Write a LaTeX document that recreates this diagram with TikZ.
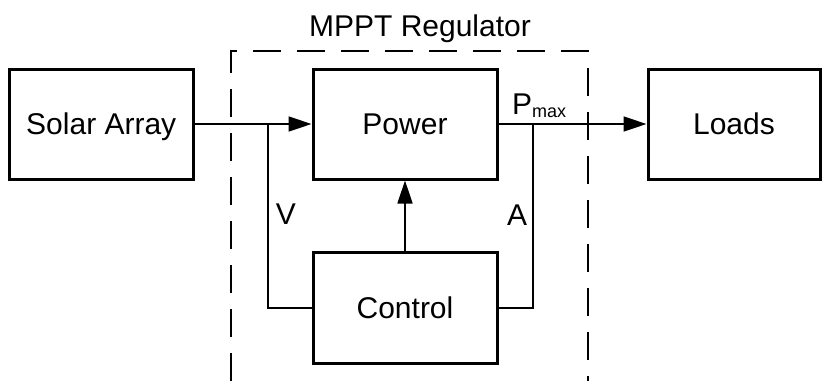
\documentclass[tikz,border=0pt]{standalone}
\usepackage{fontspec}
\setmainfont{Liberation Sans}
\usetikzlibrary{arrows.meta}
\begin{document}
\begin{tikzpicture}[x=1pt,y=-1pt,
  blockbox/.style={draw=black, line width=3pt, rectangle, inner sep=0pt,
    minimum height=110pt, text height=21.5pt, text depth=0pt,
    font=\fontsize{30}{36}\selectfont},
  conn/.style={draw=black, line width=1.5pt},
  arr/.style={conn, -{Triangle[length=23pt,width=15pt]}},
  lbl/.style={inner sep=0pt, text height=21.5pt, text depth=0pt, font=\fontsize{30}{36}\selectfont},
  regbox/.style={draw=black, line width=2pt, dash pattern=on 28pt off 16pt}
]
\useasboundingbox (0,0) rectangle (822,381);
\fill[white] (0,0) rectangle (822,381);

% dashed regulator boundary
\coordinate (rbl) at (231,381);
\coordinate (rtl) at (231,51);
\coordinate (rtr) at (588,51);
\coordinate (rbr) at (588,381);
\draw[regbox] (rbl) -- (rtl) -- (rtr) -- (rbr);
\node[lbl, anchor=base] (title) at (420,36) {MPPT Regulator};

% blocks
\node[blockbox, minimum width=183.5pt] (solar) at (101.25,124) {Solar Array};
\node[blockbox, minimum width=184pt] (power) at (405,124) {Power};
\node[blockbox, minimum width=172pt] (loads) at (734,124) {Loads};
\node[blockbox, minimum width=184pt, minimum height=111pt] (control) at (405,307.5) {Control};

% junctions
\coordinate (jv) at (268,124);
\coordinate (jvb) at (268,308);
\coordinate (ja) at (533,124);
\coordinate (jab) at (533,308);

% connectors
\draw[arr] (solar.east) -- (power.west);
\draw[arr] (power.east) -- (loads.west);
\draw[arr] (control.north) -- (power.south);
\draw[conn] (jv) -- (jvb) -- (control.west |- jvb);
\draw[conn] (ja) -- (jab) -- (control.east |- jab);

% labels
\node[lbl] (vl) at (286,214) {V};
\node[lbl] (al) at (517,215) {A};
\node[inner sep=0pt, anchor=base west, font=\fontsize{30}{36}\selectfont] (pmax) at (512,114)
  {P\raisebox{-3pt}{\fontsize{18}{20}\selectfont max}};
\end{tikzpicture}
\end{document}
